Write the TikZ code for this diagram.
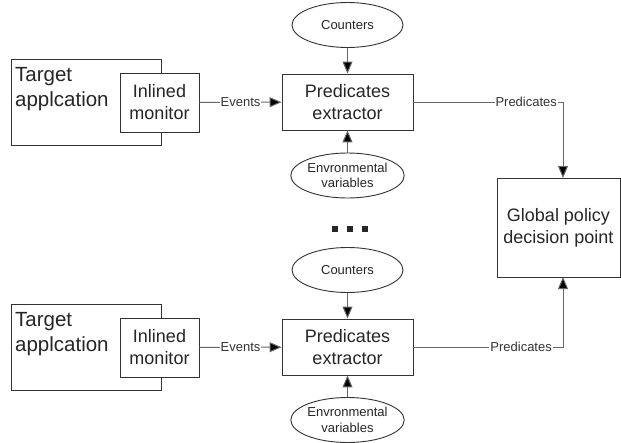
\documentclass[tikz,border=0pt]{standalone}
\usepackage{fontspec}
\setmainfont{Liberation Sans}
\usetikzlibrary{shapes.geometric,arrows.meta}
\definecolor{boxc}{HTML}{333333}
\definecolor{linec}{HTML}{666666}
\definecolor{labc}{HTML}{333333}
\begin{document}
\begin{tikzpicture}[x=1pt,y=-1pt,
  box/.style={draw=boxc, line width=0.9pt, fill=white, inner sep=0pt, align=center, font=\fontsize{18}{22}\selectfont, text=black!85},
  oval/.style={draw=boxc, ellipse, line width=0.9pt, minimum width=111pt, minimum height=45pt, inner sep=0pt, fill=white, font=\fontsize{13}{15.5}\selectfont, align=center, text=black!85},
  conn/.style={draw=linec, line width=1pt, -{Triangle[length=12pt,width=10pt,fill=black]}},
  lbl/.style={fill=white, inner sep=1pt, font=\fontsize{13}{15}\selectfont, text=labc},
  big/.style={inner sep=0pt, anchor=north west, align=left, font=\fontsize{20.5}{25}\selectfont, text=black!85}
]
\useasboundingbox (0,0) rectangle (621,442);

% top section
\node[box, minimum width=150pt, minimum height=86pt] (tgt1) at (86,102) {};
\node[big] (tt1) at (15,67) {Target\\applcation};
\node[box, minimum width=79pt, minimum height=59pt] (mon1) at (159.5,102.5) {Inlined\\monitor};
\node[box, minimum width=131pt, minimum height=56pt] (ext1) at (347.5,102) {Predicates\\extractor};
\node[oval] (cnt1) at (347.5,25) {Counters};
\node[oval] (env1) at (347.5,175.5) {Envronmental\\variables};

% bottom section
\node[box, minimum width=150pt, minimum height=86pt] (tgt2) at (86,347) {};
\node[big] (tt2) at (15,312) {Target\\applcation};
\node[box, minimum width=79pt, minimum height=59pt] (mon2) at (159.5,347.5) {Inlined\\monitor};
\node[box, minimum width=131pt, minimum height=56pt] (ext2) at (347.5,347) {Predicates\\extractor};
\node[oval] (cnt2) at (347.5,270) {Counters};
\node[oval] (env2) at (347.5,420) {Envronmental\\variables};

% global
\node[box, minimum width=123pt, minimum height=99pt] (glob) at (558.5,227.5) {Global policy\\decision point};
\coordinate (gtop) at (563,178);
\coordinate (gbot) at (563,277);

% dots
\fill[black!85] (332,226) rectangle (338,232);
\fill[black!85] (347,226) rectangle (353,232);
\fill[black!85] (362,226) rectangle (368,232);

% connectors
\draw[conn] (mon1) -- node[lbl]{Events} (ext1);
\draw[conn] (cnt1) -- (ext1);
\draw[conn] (env1) -- (ext1);
\draw[conn] (ext1.east) -| node[lbl, pos=0.377]{Predicates} (gtop);

\draw[conn] (mon2) -- node[lbl]{Events} (ext2);
\draw[conn] (cnt2) -- (ext2);
\draw[conn] (env2) -- (ext2);
\draw[conn] (ext2.east) -| node[lbl, pos=0.36]{Predicates} (gbot);
\end{tikzpicture}
\end{document}
